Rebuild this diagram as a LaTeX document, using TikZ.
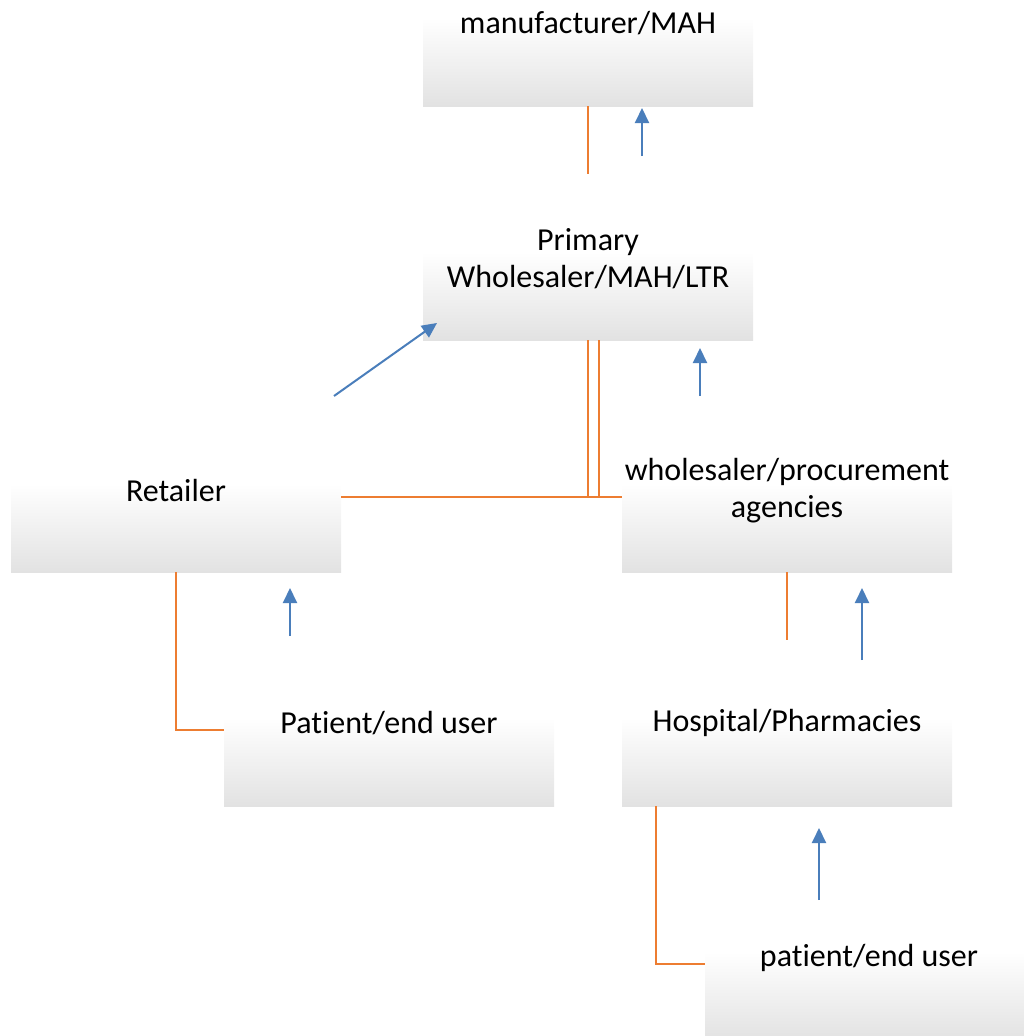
\documentclass[tikz,border=0pt]{standalone}
\usepackage{fontspec}
\setmainfont{Carlito}[Ligatures=NoCommon]
\usetikzlibrary{arrows.meta}
\definecolor{linkorange}{RGB}{237,125,49}
\definecolor{flowblue}{RGB}{74,126,187}
\definecolor{boxgray}{RGB}{226,226,226}
\tikzset{
  x=1pt, y=1pt,
  box/.style={draw=none, minimum width=330pt, minimum height=88pt, inner sep=0pt,
    top color=white, bottom color=boxgray},
  lbl/.style={inner sep=0pt, align=center, font=\fontsize{32}{37}\selectfont, text=black},
  link/.style={draw=linkorange, line width=1.3pt},
  flow/.style={draw=flowblue, line width=2pt, -{Triangle[length=15pt,width=14pt]}}
}
\begin{document}
\begin{tikzpicture}
\useasboundingbox (0,0) rectangle (1024,-1036);
% boxes (shaded, text sits on their top edge)
\node[box] (man) at (588,-62) {};
\node[box] (pri) at (588,-296) {};
\node[box] (ret) at (176,-528) {};
\node[box] (whl) at (787,-528) {};
\node[box] (pat) at (389,-762) {};
\node[box] (hos) at (787,-762) {};
\begin{scope}
  \clip (0,0) rectangle (1024,-1036);
  \node[box] (pat2) at (870,-996) {};
\end{scope}
% labels
\node[lbl] (manT) at (588,-23) {manufacturer/MAH};
\node[lbl] (priT) at (588,-259) {Primary\\Wholesaler/MAH/LTR};
\node[lbl] (retT) at (176,-491) {Retailer};
\node[lbl] (whlT) at (787,-491) {wholesaler/procurement\\agencies};
\node[lbl] (patT) at (389,-723) {Patient/end user};
\node[lbl] (hosT) at (787,-723) {Hospital/Pharmacies};
\node[lbl] (pat2T) at (869,-958) {patient/end user};
% orange connector lines
\coordinate (m1) at (588,-174);
\draw[link] (man.south) -- (m1);
\coordinate (pj1) at (588,-497);
\coordinate (pj2) at (599,-497);
\draw[link] (pri.south -| pj1) -- (pj1);
\draw[link] (pri.south -| pj2) -- (pj2);
\draw[link] (ret.east |- pj1) -- (whl.west |- pj1);
\coordinate (rc) at (176,-730);
\draw[link] (ret.south) -- (rc) -- (pat.west |- rc);
\coordinate (w1) at (787,-640);
\draw[link] (whl.south) -- (w1);
\coordinate (hc) at (656,-964);
\draw[link] (hos.south -| hc) -- (hc) -- (pat2.west |- hc);
% blue flow arrows
\coordinate (a1s) at (642,-156); \coordinate (a1e) at (642,-108);
\draw[flow] (a1s) -- (a1e);
\coordinate (a2s) at (334,-396); \coordinate (a2e) at (437,-323);
\draw[flow] (a2s) -- (a2e);
\coordinate (a3s) at (700,-396); \coordinate (a3e) at (700,-348);
\draw[flow] (a3s) -- (a3e);
\coordinate (a4s) at (290,-636); \coordinate (a4e) at (290,-588);
\draw[flow] (a4s) -- (a4e);
\coordinate (a5s) at (862,-660); \coordinate (a5e) at (862,-588);
\draw[flow] (a5s) -- (a5e);
\coordinate (a6s) at (819,-900); \coordinate (a6e) at (819,-828);
\draw[flow] (a6s) -- (a6e);
\end{tikzpicture}
\end{document}
